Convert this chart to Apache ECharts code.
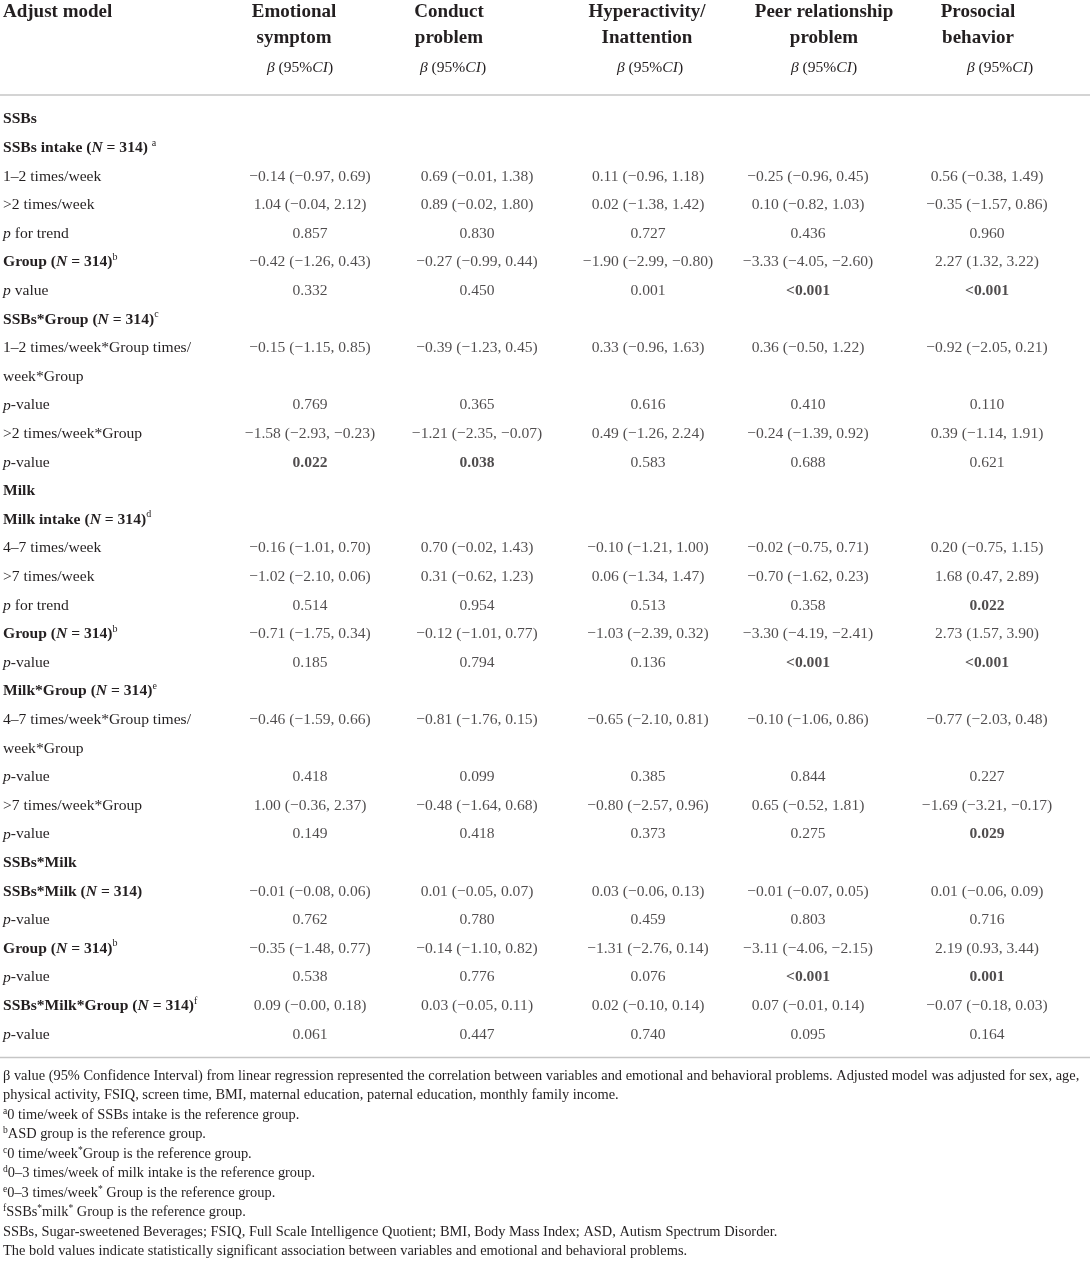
<!DOCTYPE html>
<html>
<head>
<meta charset="utf-8">
<script src="https://cdn.jsdelivr.net/npm/echarts@6/dist/echarts.min.js"></script>
<style>
html,body{margin:0;padding:0;background:#fff;}
#chart{width:1090px;height:1268px;}
</style>
</head>
<body>
<div id="chart"></div>
<script>
// ---------- DATA ----------
const stubTitle = "Adjust model";
const columnTitles = [
  ["Emotional", "symptom"],
  ["Conduct", "problem"],
  ["Hyperactivity/", "Inattention"],
  ["Peer relationship", "problem"],
  ["Prosocial", "behavior"]
];
const subTitle = "<i>β</i> (95%<i>CI</i>)";

const rowLabels = [
  "<b>SSBs</b>",
  "<b>SSBs intake (<i>N</i> = 314)</b> <sup>a</sup>",
  "1–2 times/week",
  ">2 times/week",
  "<i>p</i> for trend",
  "<b>Group (<i>N</i> = 314)</b><sup>b</sup>",
  "<i>p</i> value",
  "<b>SSBs*Group (<i>N</i> = 314)</b><sup>c</sup>",
  "1–2 times/week*Group times/",
  "week*Group",
  "<i>p</i>-value",
  ">2 times/week*Group",
  "<i>p</i>-value",
  "<b>Milk</b>",
  "<b>Milk intake (<i>N</i> = 314)</b><sup>d</sup>",
  "4–7 times/week",
  ">7 times/week",
  "<i>p</i> for trend",
  "<b>Group (<i>N</i> = 314)</b><sup>b</sup>",
  "<i>p</i>-value",
  "<b>Milk*Group (<i>N</i> = 314)</b><sup>e</sup>",
  "4–7 times/week*Group times/",
  "week*Group",
  "<i>p</i>-value",
  ">7 times/week*Group",
  "<i>p</i>-value",
  "<b>SSBs*Milk</b>",
  "<b>SSBs*Milk (<i>N</i> = 314)</b>",
  "<i>p</i>-value",
  "<b>Group (<i>N</i> = 314)</b><sup>b</sup>",
  "<i>p</i>-value",
  "<b>SSBs*Milk*Group (<i>N</i> = 314)</b><sup>f</sup>",
  "<i>p</i>-value"
];

const emotional = [
  "", "", "−0.14 (−0.97, 0.69)", "1.04 (−0.04, 2.12)", "0.857", "−0.42 (−1.26, 0.43)", "0.332",
  "", "−0.15 (−1.15, 0.85)", "", "0.769", "−1.58 (−2.93, −0.23)", "<b>0.022</b>",
  "", "", "−0.16 (−1.01, 0.70)", "−1.02 (−2.10, 0.06)", "0.514", "−0.71 (−1.75, 0.34)", "0.185",
  "", "−0.46 (−1.59, 0.66)", "", "0.418", "1.00 (−0.36, 2.37)", "0.149",
  "", "−0.01 (−0.08, 0.06)", "0.762", "−0.35 (−1.48, 0.77)", "0.538", "0.09 (−0.00, 0.18)", "0.061"
];
const conduct = [
  "", "", "0.69 (−0.01, 1.38)", "0.89 (−0.02, 1.80)", "0.830", "−0.27 (−0.99, 0.44)", "0.450",
  "", "−0.39 (−1.23, 0.45)", "", "0.365", "−1.21 (−2.35, −0.07)", "<b>0.038</b>",
  "", "", "0.70 (−0.02, 1.43)", "0.31 (−0.62, 1.23)", "0.954", "−0.12 (−1.01, 0.77)", "0.794",
  "", "−0.81 (−1.76, 0.15)", "", "0.099", "−0.48 (−1.64, 0.68)", "0.418",
  "", "0.01 (−0.05, 0.07)", "0.780", "−0.14 (−1.10, 0.82)", "0.776", "0.03 (−0.05, 0.11)", "0.447"
];
const hyperactivity = [
  "", "", "0.11 (−0.96, 1.18)", "0.02 (−1.38, 1.42)", "0.727", "−1.90 (−2.99, −0.80)", "0.001",
  "", "0.33 (−0.96, 1.63)", "", "0.616", "0.49 (−1.26, 2.24)", "0.583",
  "", "", "−0.10 (−1.21, 1.00)", "0.06 (−1.34, 1.47)", "0.513", "−1.03 (−2.39, 0.32)", "0.136",
  "", "−0.65 (−2.10, 0.81)", "", "0.385", "−0.80 (−2.57, 0.96)", "0.373",
  "", "0.03 (−0.06, 0.13)", "0.459", "−1.31 (−2.76, 0.14)", "0.076", "0.02 (−0.10, 0.14)", "0.740"
];
const peer = [
  "", "", "−0.25 (−0.96, 0.45)", "0.10 (−0.82, 1.03)", "0.436", "−3.33 (−4.05, −2.60)", "<b><0.001</b>",
  "", "0.36 (−0.50, 1.22)", "", "0.410", "−0.24 (−1.39, 0.92)", "0.688",
  "", "", "−0.02 (−0.75, 0.71)", "−0.70 (−1.62, 0.23)", "0.358", "−3.30 (−4.19, −2.41)", "<b><0.001</b>",
  "", "−0.10 (−1.06, 0.86)", "", "0.844", "0.65 (−0.52, 1.81)", "0.275",
  "", "−0.01 (−0.07, 0.05)", "0.803", "−3.11 (−4.06, −2.15)", "<b><0.001</b>", "0.07 (−0.01, 0.14)", "0.095"
];
const prosocial = [
  "", "", "0.56 (−0.38, 1.49)", "−0.35 (−1.57, 0.86)", "0.960", "2.27 (1.32, 3.22)", "<b><0.001</b>",
  "", "−0.92 (−2.05, 0.21)", "", "0.110", "0.39 (−1.14, 1.91)", "0.621",
  "", "", "0.20 (−0.75, 1.15)", "1.68 (0.47, 2.89)", "<b>0.022</b>", "2.73 (1.57, 3.90)", "<b><0.001</b>",
  "", "−0.77 (−2.03, 0.48)", "", "0.227", "−1.69 (−3.21, −0.17)", "<b>0.029</b>",
  "", "0.01 (−0.06, 0.09)", "0.716", "2.19 (0.93, 3.44)", "<b>0.001</b>", "−0.07 (−0.18, 0.03)", "0.164"
];

const footnotes = [
  "β value (95% Confidence Interval) from linear regression represented the correlation between variables and emotional and behavioral problems. Adjusted model was adjusted for sex, age,",
  "physical activity, FSIQ, screen time, BMI, maternal education, paternal education, monthly family income.",
  "<sup>a</sup>0 time/week of SSBs intake is the reference group.",
  "<sup>b</sup>ASD group is the reference group.",
  "<sup>c</sup>0 time/week<sup>*</sup>Group is the reference group.",
  "<sup>d</sup>0–3 times/week of milk intake is the reference group.",
  "<sup>e</sup>0–3 times/week<sup>*</sup> Group is the reference group.",
  "<sup>f</sup>SSBs<sup>*</sup>milk<sup>*</sup> Group is the reference group.",
  "SSBs, Sugar-sweetened Beverages; FSIQ, Full Scale Intelligence Quotient; BMI, Body Mass Index; ASD, Autism Spectrum Disorder.",
  "The bold values indicate statistically significant association between variables and emotional and behavioral problems."
];

const columns = [emotional, conduct, hyperactivity, peer, prosocial];

// ---------- LAYOUT ----------
const FONT = "'Liberation Serif', 'DejaVu Serif', serif";
const INK = "#231f20";
const W = 1090;
const colCenter = [310, 477, 648, 808, 987];
const headCenter = [294, 449, 647, 824, 978];
const subCenter = [300, 453, 650, 824, 1000];
const rowH = 28.6;
const firstRowY = 119.4;
const gridTop = firstRowY - rowH / 2;
const gridH = rowH * rowLabels.length;
const colW = 160;

function toRich(s) {
  let out = "";
  const st = { b: false, i: false, sup: false };
  const re = /<(\/?)(b|i|sup)>/g;
  let last = 0, m;
  const emit = (t) => {
    if (!t) return;
    const name = st.sup ? "sup" : (st.b && st.i ? "bi" : st.b ? "b" : st.i ? "i" : "r");
    out += "{" + name + "|" + t + "}";
  };
  while ((m = re.exec(s))) {
    emit(s.slice(last, m.index));
    st[m[2]] = !m[1];
    last = re.lastIndex;
  }
  emit(s.slice(last));
  return out;
}

function richSet(size, supSize, lh) {
  const base = { fontFamily: FONT, fontSize: size, color: INK, lineHeight: lh };
  return {
    r: Object.assign({}, base),
    b: Object.assign({}, base, { fontWeight: "bold" }),
    i: Object.assign({}, base, { fontStyle: "italic" }),
    bi: Object.assign({}, base, { fontWeight: "bold", fontStyle: "italic" }),
    sup: { fontFamily: FONT, fontSize: supSize, color: INK, lineHeight: lh, verticalAlign: "top" }
  };
}
function richFill(size, supSize, lh) {
  const rs = richSet(size, supSize, lh);
  Object.keys(rs).forEach(k => { rs[k].fill = rs[k].color; });
  return rs;
}

const bodyRich = richSet(15.6, 10, 20);

const grids = [], xAxes = [], yAxes = [], series = [];
columns.forEach((vals, c) => {
  grids.push({ left: colCenter[c] - colW / 2, width: colW, top: gridTop, height: gridH });
  xAxes.push({ type: "category", gridIndex: c, data: [columnTitles[c].join(" ")], show: false });
  yAxes.push({
    type: "category", gridIndex: c, data: rowLabels, inverse: true,
    axisLine: { show: false }, axisTick: { show: false }, splitLine: { show: false },
    axisLabel: c === 0 ? {
      show: true, align: "left", margin: colCenter[0] - colW / 2 - 3,
      formatter: (v) => toRich(v), rich: bodyRich
    } : { show: false }
  });
  series.push({
    type: "scatter", xAxisIndex: c, yAxisIndex: c, symbolSize: 1,
    itemStyle: { color: "rgba(0,0,0,0)" },
    silent: true,
    data: vals.map((v, r) => ({ value: [0, r], text: v })).filter(d => d.text !== ""),
    label: {
      show: true, position: "inside",
      formatter: (p) => toRich(p.data.text), rich: bodyRich
    }
  });
});

const graphics = [];
// header
graphics.push({
  type: "text", x: 3, y: 12,
  style: { text: stubTitle, fontFamily: FONT, fontSize: 19, fontWeight: "bold", fill: INK, align: "left", verticalAlign: "middle" }
});
columnTitles.forEach((t, c) => {
  t.forEach((line, li) => {
    graphics.push({
      type: "text", x: headCenter[c], y: 12 + li * 26.5,
      style: { text: line, fontFamily: FONT, fontSize: 19, fontWeight: "bold", fill: INK, align: "center", verticalAlign: "middle" }
    });
  });
  graphics.push({
    type: "text", x: subCenter[c], y: 68,
    style: { text: toRich(subTitle), rich: richFill(15.6, 10, 20), align: "center", verticalAlign: "middle" }
  });
});
// rules
[95, 1057.5].forEach(y => {
  graphics.push({ type: "line", shape: { x1: 0, y1: y, x2: W, y2: y }, style: { stroke: "#c6c6c6", lineWidth: 1.6 } });
});
// footnotes
footnotes.forEach((f, i) => {
  graphics.push({
    type: "text", x: 3, y: 1076 + i * 19.5,
    style: { text: toRich(f), rich: richFill(14.4, 9.5, 18), align: "left", verticalAlign: "middle" }
  });
});

const chart = echarts.init(document.getElementById("chart"), null, { renderer: "canvas" });
chart.setOption({
  animation: false,
  backgroundColor: "#fff",
  tooltip: { show: false },
  grid: grids,
  xAxis: xAxes,
  yAxis: yAxes,
  series: series,
  graphic: graphics
});
</script>
</body>
</html>
